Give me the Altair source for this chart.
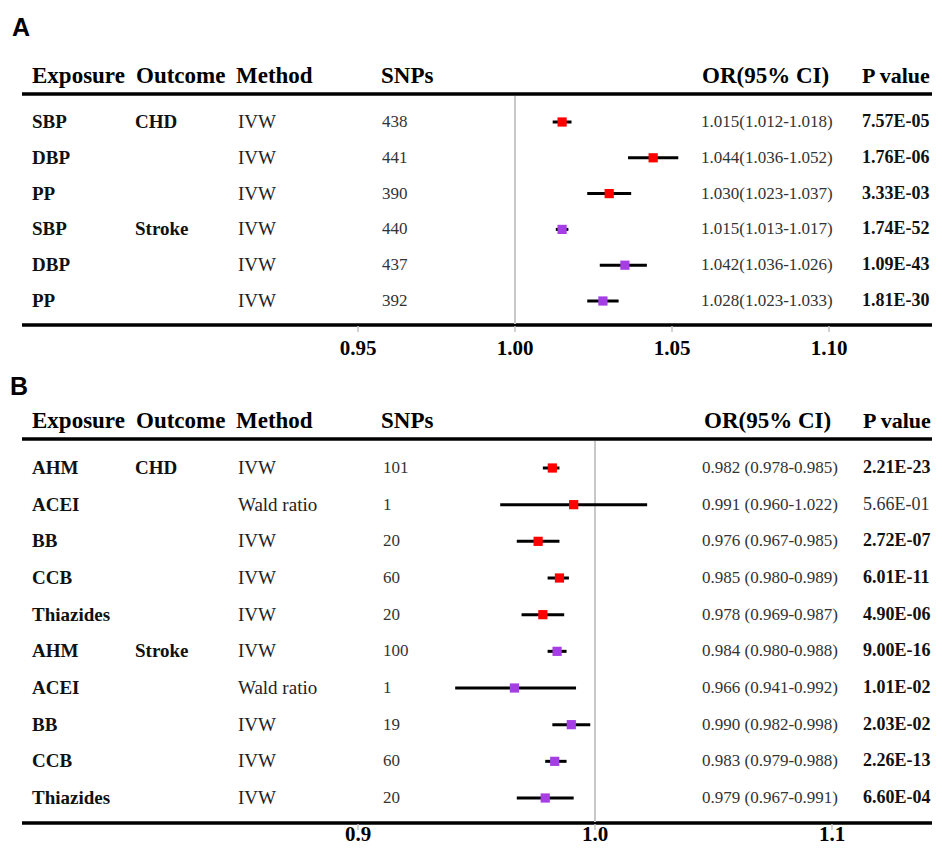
import altair as alt
import pandas as pd

# ---------------- Panel A data ----------------
exposure_a = ["SBP", "DBP", "PP", "SBP", "DBP", "PP"]
outcome_a = ["CHD", "", "", "Stroke", "", ""]
method_a = ["IVW", "IVW", "IVW", "IVW", "IVW", "IVW"]
snps_a = [438, 441, 390, 440, 437, 392]
or_text_a = ["1.015(1.012-1.018)", "1.044(1.036-1.052)", "1.030(1.023-1.037)",
             "1.015(1.013-1.017)", "1.042(1.036-1.026)", "1.028(1.023-1.033)"]
p_a = ["7.57E-05", "1.76E-06", "3.33E-03", "1.74E-52", "1.09E-43", "1.81E-30"]
# plotted estimates / CI as drawn
est_a = [1.015, 1.044, 1.030, 1.015, 1.035, 1.028]
lo_a = [1.012, 1.036, 1.023, 1.013, 1.027, 1.023]
hi_a = [1.018, 1.052, 1.037, 1.017, 1.042, 1.033]
ticks_a = [0.95, 1.00, 1.05, 1.10]
tick_labels_a = ["0.95", "1.00", "1.05", "1.10"]

# ---------------- Panel B data ----------------
exposure_b = ["AHM", "ACEI", "BB", "CCB", "Thiazides", "AHM", "ACEI", "BB", "CCB", "Thiazides"]
outcome_b = ["CHD", "", "", "", "", "Stroke", "", "", "", ""]
method_b = ["IVW", "Wald ratio", "IVW", "IVW", "IVW", "IVW", "Wald ratio", "IVW", "IVW", "IVW"]
snps_b = [101, 1, 20, 60, 20, 100, 1, 19, 60, 20]
or_text_b = ["0.982 (0.978-0.985)", "0.991 (0.960-1.022)", "0.976 (0.967-0.985)",
             "0.985 (0.980-0.989)", "0.978 (0.969-0.987)", "0.984 (0.980-0.988)",
             "0.966 (0.941-0.992)", "0.990 (0.982-0.998)", "0.983 (0.979-0.988)",
             "0.979 (0.967-0.991)"]
p_b = ["2.21E-23", "5.66E-01", "2.72E-07", "6.01E-11", "4.90E-06",
       "9.00E-16", "1.01E-02", "2.03E-02", "2.26E-13", "6.60E-04"]
est_b = [0.982, 0.991, 0.976, 0.985, 0.978, 0.984, 0.966, 0.990, 0.983, 0.979]
lo_b = [0.978, 0.960, 0.967, 0.980, 0.969, 0.980, 0.941, 0.982, 0.979, 0.967]
hi_b = [0.985, 1.022, 0.985, 0.989, 0.987, 0.988, 0.992, 0.998, 0.988, 0.991]
ticks_b = [0.9, 1.0, 1.1]
tick_labels_b = ["0.9", "1.0", "1.1"]

headers = ["Exposure", "Outcome", "Method", "SNPs", "OR(95% CI)", "P value"]

SERIF = "Liberation Serif"
SANS = "Liberation Sans"
W = 926
COLORS = ["#ff0000", "#a63ee6"]


def one():
    return pd.DataFrame({"k": [0]})


def panel(letter, exposure, outcome, method, snps, or_text, pvals, est, lo, hi,
          ticks, tick_labels, xdomain, xrange, geo, height):
    n = len(exposure)
    group, cur = [], None
    for o in outcome:
        if o:
            cur = o
        group.append(cur)
    df = pd.DataFrame({
        "row": list(range(n)), "exposure": exposure, "outcome": outcome,
        "group": group, "method": method, "snps": [str(s) for s in snps],
        "or_text": or_text, "p": pvals,
        "sig": [float(p) < 0.05 for p in pvals],
        "est": est, "lo": lo, "hi": hi,
    })
    xs = alt.Scale(domain=xdomain, range=xrange, nice=False, zero=False)
    ys = alt.Scale(domain=[0, n - 1], range=geo["rows"], nice=False, zero=False)
    Y = alt.Y("row:Q", scale=ys, axis=None)
    base = alt.Chart(df)
    cols = geo["cols"]
    layers = []

    # panel letter
    layers.append(alt.Chart(one()).mark_text(
        font=SANS, fontWeight="bold", fontSize=25, align="left", baseline="middle",
        color="black").encode(x=alt.value(geo["letter_x"]), y=alt.value(geo["letter_y"]),
                              text=alt.value(letter)))
    # headers
    for i, (h, hx) in enumerate(zip(headers, geo["hcols"])):
        fs = 22 if i == len(headers) - 1 else 23
        layers.append(alt.Chart(one()).mark_text(
            font=SERIF, fontWeight="bold", fontSize=fs, align="left", baseline="middle",
            color="black", clip=True).encode(x=alt.value(hx), y=alt.value(geo["header_y"]),
                                             text=alt.value(h)))
    # horizontal rules
    for yy in (geo["top_line"], geo["bottom_line"]):
        layers.append(alt.Chart(one()).mark_rule(color="black", strokeWidth=3.5).encode(
            x=alt.value(14), x2=alt.value(W - 2), y=alt.value(yy)))
    # reference line at 1
    layers.append(alt.Chart(pd.DataFrame({"ref": [1.0]})).mark_rule(
        color="#c8c8c8", strokeWidth=2).encode(
        x=alt.X("ref:Q", scale=xs, axis=None),
        y=alt.value(geo["ref"][0]), y2=alt.value(geo["ref"][1])))
    # ticks + labels
    tdf = pd.DataFrame({"tick": ticks, "label": tick_labels})
    layers.append(alt.Chart(tdf).mark_rule(color="#c4c4c4", strokeWidth=1.5).encode(
        x=alt.X("tick:Q", scale=xs, axis=None),
        y=alt.value(geo["tick"][0]), y2=alt.value(geo["tick"][1])))
    layers.append(alt.Chart(tdf).mark_text(
        font=SERIF, fontWeight="bold", fontSize=21, baseline="middle", color="black").encode(
        x=alt.X("tick:Q", scale=xs, axis=None), y=alt.value(geo["tick_label_y"]),
        text="label:N"))
    # CI lines
    layers.append(base.mark_rule(color="black", strokeWidth=3).encode(
        x=alt.X("lo:Q", scale=xs, axis=None), x2="hi:Q", y=Y))
    # squares
    layers.append(base.mark_square(size=85, opacity=1).encode(
        x=alt.X("est:Q", scale=xs, axis=None), y=Y,
        color=alt.Color("group:N", scale=alt.Scale(domain=["CHD", "Stroke"], range=COLORS),
                        legend=None)))
    # text columns
    layers.append(base.mark_text(font=SERIF, fontWeight="bold", fontSize=19, align="left",
                                 baseline="middle", color="#111").encode(
        x=alt.value(cols[0]), y=Y, text="exposure:N"))
    layers.append(base.mark_text(font=SERIF, fontWeight="bold", fontSize=19, align="left",
                                 baseline="middle", color="#111").encode(
        x=alt.value(cols[1]), y=Y, text="outcome:N"))
    layers.append(base.mark_text(font=SERIF, fontSize=19, align="left",
                                 baseline="middle", color="#222").encode(
        x=alt.value(cols[2]), y=Y, text="method:N"))
    layers.append(base.mark_text(font=SERIF, fontSize=17, align="left",
                                 baseline="middle", color="#333").encode(
        x=alt.value(cols[3]), y=Y, text="snps:N"))
    layers.append(base.mark_text(font=SERIF, fontSize=17, align="left",
                                 baseline="middle", color="#333").encode(
        x=alt.value(cols[4]), y=Y, text="or_text:N"))
    layers.append(base.transform_filter("datum.sig").mark_text(
        font=SERIF, fontWeight="bold", fontSize=18, align="left", baseline="middle",
        color="#111", clip=True).encode(x=alt.value(cols[5]), y=Y, text="p:N"))
    layers.append(base.transform_filter("!datum.sig").mark_text(
        font=SERIF, fontSize=18, align="left", baseline="middle",
        color="#333", clip=True).encode(x=alt.value(cols[5]), y=Y, text="p:N"))

    return alt.layer(*layers).properties(width=W, height=height)


geo_a = dict(letter_x=4, letter_y=19.5, header_y=68, top_line=86, bottom_line=317,
             rows=[114, 293], ref=[88, 316], tick=[318, 324], tick_label_y=341,
             cols=[24, 127, 230, 374, 693, 854], hcols=[24, 128, 228, 373, 694, 854])
geo_b = dict(letter_x=2, letter_y=26.5, header_y=61, top_line=79, bottom_line=463,
             rows=[108, 438], ref=[81, 462], tick=[464, 470], tick_label_y=475,
             cols=[24, 127, 230, 375, 694, 855], hcols=[24, 128, 228, 373, 696, 855])

panel_a = panel("A", exposure_a, outcome_a, method_a, snps_a, or_text_a, p_a,
                est_a, lo_a, hi_a, ticks_a, tick_labels_a, [0.95, 1.10], [350, 821],
                geo_a, 352)
panel_b = panel("B", exposure_b, outcome_b, method_b, snps_b, or_text_b, p_b,
                est_b, lo_b, hi_b, ticks_b, tick_labels_b, [0.9, 1.1], [350, 824],
                geo_b, 486)

chart = alt.vconcat(panel_a, panel_b, spacing=0).properties(
    padding=0, background="white").configure_view(stroke=None)

chart.save("out.html", embed_options={"renderer": "svg", "actions": False})
